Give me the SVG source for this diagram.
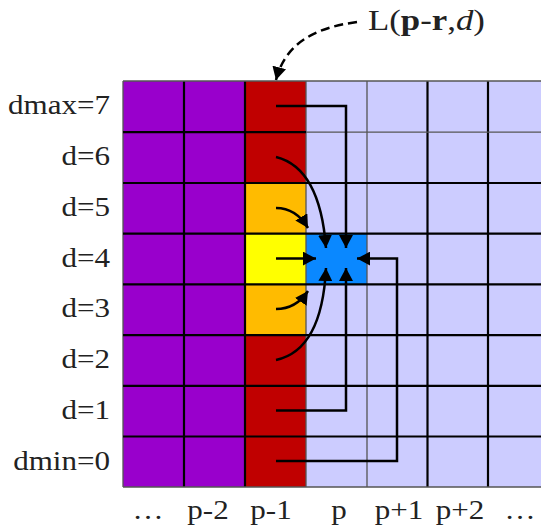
<svg xmlns="http://www.w3.org/2000/svg" width="541" height="527" viewBox="0 0 541 527">
<style>
.t{font-family:"Liberation Serif","Times New Roman",serif;font-size:27px;fill:#222}
.g{stroke:#000;stroke-width:2.2;fill:none}
.gt{stroke:#555;stroke-width:1.3;fill:none}
.c{stroke:#000;stroke-width:2.5;fill:none}
</style>
<defs>
<marker id="ah" markerUnits="userSpaceOnUse" markerWidth="14" markerHeight="14" refX="13" refY="7" orient="auto" viewBox="0 0 14 14">
<path d="M0,0 L13,7 L0,14 z" fill="#000"/>
</marker>
</defs>
<rect width="541" height="527" fill="#fff"/>
<g id="cells">
<rect id="col-pm3" x="123" y="81" width="61" height="406" fill="#9900CC"/>
<rect id="col-pm2" x="184" y="81" width="61" height="406" fill="#9900CC"/>
<rect id="col-pm1" x="245" y="81" width="61" height="406" fill="#C00000"/>
<rect id="col-p" x="306" y="81" width="235" height="406" fill="#CCCCFF"/>
</g>
<g id="cell-pm1-d5"><rect x="245" y="183" width="61" height="50.7" fill="#FFBB00"/></g>
<g id="cell-pm1-d4"><rect x="245" y="233.7" width="61" height="50.7" fill="#FFFF00"/></g>
<g id="cell-pm1-d3"><rect x="245" y="284.4" width="61" height="50.7" fill="#FFBB00"/></g>
<g id="cell-p-d4"><rect x="306" y="233.7" width="61" height="50.7" fill="#0A88FF"/></g>
<g id="grid">
<path class="g" d="M184,81V487M245,81V487M427.5,81V487M488,81V487"/>
<path class="gt" d="M123,81V487M306,81V487M367,81V487"/>
<path class="g" d="M123,183H541M123,233.7H541M123,284.4H541M123,335.1H541M123,385.8H541M123,436.5H541"/>
<path class="gt" d="M123,81H541M123,132.2H541M123,487H541"/>
<path class="g" d="M123,132.2H306"/>
</g>
<g id="connectors">
<path class="c" d="M276,106H346V248" marker-end="url(#ah)"/>
<path class="c" d="M276,157Q320,168 326,248" marker-end="url(#ah)"/>
<path class="c" d="M276,208Q296,208 308,228" marker-end="url(#ah)"/>
<path class="c" d="M276,258.6H316" marker-end="url(#ah)"/>
<path class="c" d="M276,309Q296,309 308,291" marker-end="url(#ah)"/>
<path class="c" d="M276,360Q322,350 326,268" marker-end="url(#ah)"/>
<path class="c" d="M276,410.5H346V268" marker-end="url(#ah)"/>
<path class="c" d="M276,461H397V258.6H357" marker-end="url(#ah)"/>
<path class="c" d="M357,22C312,28 285,45 276,80" stroke-dasharray="9,5" marker-end="url(#ah)"/>
</g>
<g id="labels-d">
<text class="t" text-anchor="end" transform="translate(110,114) scale(1.15,1)">dmax=7</text>
<text class="t" text-anchor="end" transform="translate(110,165) scale(1.15,1)">d=6</text>
<text class="t" text-anchor="end" transform="translate(110,216) scale(1.15,1)">d=5</text>
<text class="t" text-anchor="end" transform="translate(110,267) scale(1.15,1)">d=4</text>
<text class="t" text-anchor="end" transform="translate(110,317) scale(1.15,1)">d=3</text>
<text class="t" text-anchor="end" transform="translate(110,368) scale(1.15,1)">d=2</text>
<text class="t" text-anchor="end" transform="translate(110,419) scale(1.15,1)">d=1</text>
<text class="t" text-anchor="end" transform="translate(110,470) scale(1.15,1)">dmin=0</text>
</g>
<g id="labels-p">
<text class="t" text-anchor="middle" transform="translate(148,519) scale(1.15,1)">…</text>
<text class="t" text-anchor="middle" transform="translate(208,519) scale(1.15,1)">p-2</text>
<text class="t" text-anchor="middle" transform="translate(271,519) scale(1.15,1)">p-1</text>
<text class="t" text-anchor="middle" transform="translate(339,519) scale(1.15,1)">p</text>
<text class="t" text-anchor="middle" transform="translate(399,519) scale(1.15,1)">p+1</text>
<text class="t" text-anchor="middle" transform="translate(460,519) scale(1.15,1)">p+2</text>
<text class="t" text-anchor="middle" transform="translate(520,519) scale(1.15,1)">…</text>
</g>
<g id="title">
<text class="t" font-size="29" style="font-size:29px" transform="translate(368,30) scale(1.2,1)">L(<tspan font-weight="bold">p</tspan>-<tspan font-weight="bold">r</tspan>,<tspan font-style="italic">d</tspan>)</text>
</g>
</svg>
